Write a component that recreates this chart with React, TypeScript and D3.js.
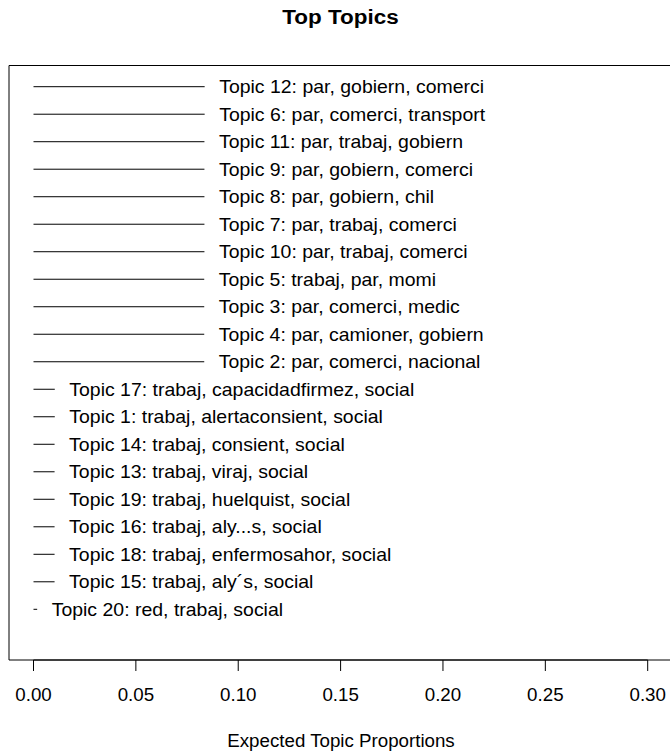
import React from "react";
import * as d3 from "d3";

const topicLabels: string[] = [
  "Topic 12: par, gobiern, comerci",
  "Topic 6: par, comerci, transport",
  "Topic 11: par, trabaj, gobiern",
  "Topic 9: par, gobiern, comerci",
  "Topic 8: par, gobiern, chil",
  "Topic 7: par, trabaj, comerci",
  "Topic 10: par, trabaj, comerci",
  "Topic 5: trabaj, par, momi",
  "Topic 3: par, comerci, medic",
  "Topic 4: par, camioner, gobiern",
  "Topic 2: par, comerci, nacional",
  "Topic 17: trabaj, capacidadfirmez, social",
  "Topic 1: trabaj, alertaconsient, social",
  "Topic 14: trabaj, consient, social",
  "Topic 13: trabaj, viraj, social",
  "Topic 19: trabaj, huelquist, social",
  "Topic 16: trabaj, aly...s, social",
  "Topic 18: trabaj, enfermosahor, social",
  "Topic 15: trabaj, aly\u00b4s, social",
  "Topic 20: red, trabaj, social",
];

const proportions: number[] = [
  0.0836, 0.0836, 0.0835, 0.0835, 0.0835, 0.0835, 0.0835, 0.0834, 0.0834, 0.0834, 0.0834,
  0.0104, 0.0104, 0.0103, 0.0103, 0.0103, 0.0103, 0.0103, 0.0103,
  0.0018,
];

const xTicks: number[] = [0, 0.05, 0.1, 0.15, 0.2, 0.25, 0.3];

const title = "Top Topics";
const xTitle = "Expected Topic Proportions";

const W = 670;
const H = 751;
const FONT = "'Liberation Sans', Arial, Helvetica, sans-serif";
const FS = 17.5;
const LFS = 18.2;
const SX = 1.07;

export default function App() {
  const x = d3.scaleLinear().domain([0, 0.3]).range([33.5, 647.7]);
  const y = d3
    .scaleLinear()
    .domain([0, topicLabels.length - 1])
    .range([86.7, 609.3]);

  const boxTop = 65.5;
  const boxBottom = 660;
  const boxLeft = 9;

  const T = (props: { x: number; y: number; anchor?: string; size?: number; bold?: boolean; children: string }) => (
    <g transform={`translate(${props.x},${props.y}) scale(${SX},1)`}>
      <text
        x={0}
        y={0}
        textAnchor={props.anchor || "start"}
        fontFamily={FONT}
        fontSize={props.size || FS}
        fontWeight={props.bold ? "bold" : "normal"}
        fill="#000"
      >
        {props.children}
      </text>
    </g>
  );

  return (
    <svg
      width={W}
      height={H}
      style={{ position: "absolute", left: 0, top: 0, background: "#fff" }}
    >
      <rect x={0} y={0} width={W} height={H} fill="#fff" />
      <T x={340.5} y={24} anchor="middle" size={21} bold>
        {title}
      </T>
      {/* plot box */}
      <path
        d={`M${W + 5},${boxTop}H${boxLeft}V${boxBottom}H${W + 5}`}
        fill="none"
        stroke="#000"
        strokeWidth={1}
      />
      {topicLabels.map((lab, i) => {
        const v = proportions[i];
        const yy = y(i);
        return (
          <g key={lab}>
            <line x1={x(0)} x2={x(v)} y1={yy} y2={yy} stroke="#000" strokeWidth={1} />
            <T x={x(v) + 14.5} y={yy + 0.35 * LFS} size={LFS}>
              {lab}
            </T>
          </g>
        );
      })}
      {/* x axis */}
      <line x1={x(0)} x2={x(0.3)} y1={boxBottom} y2={boxBottom} stroke="#000" strokeWidth={1} />
      {xTicks.map((t) => (
        <g key={t}>
          <line x1={x(t)} x2={x(t)} y1={boxBottom} y2={boxBottom + 11} stroke="#000" strokeWidth={1} />
          <T x={x(t)} y={700.5} anchor="middle">
            {d3.format(".2f")(t)}
          </T>
        </g>
      ))}
      <T x={341} y={747} anchor="middle">
        {xTitle}
      </T>
    </svg>
  );
}
